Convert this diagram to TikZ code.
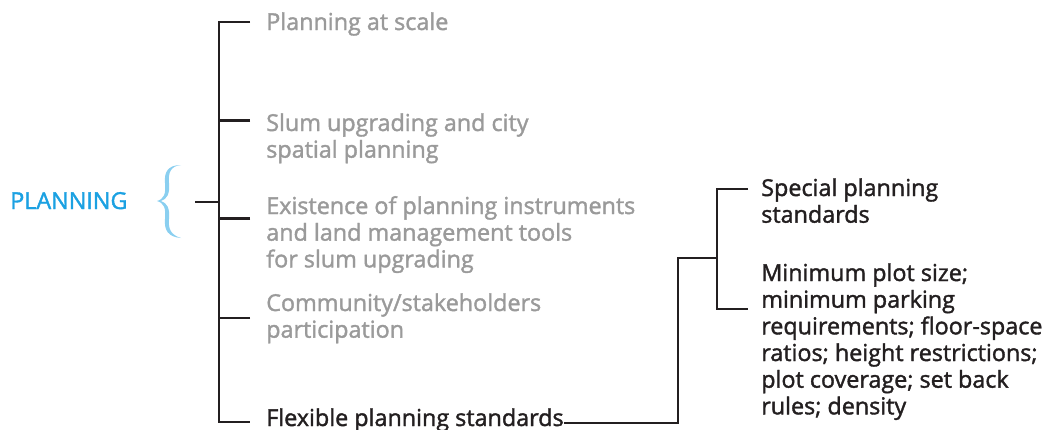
\documentclass[tikz,border=0pt]{standalone}
\usepackage{fontspec}
\setmainfont{Open Sans}[FakeBold=1.6]
\definecolor{ink}{HTML}{231F20}
\definecolor{greytext}{HTML}{9A9A9A}
\definecolor{planblue}{HTML}{1BA1E2}
\definecolor{braceblue}{HTML}{8ACFF0}
\newcommand{\mylines}[1]{\begin{tabular}[t]{@{}l@{}}#1\end{tabular}}
\tikzset{
  txt/.style={anchor=base west, inner sep=0pt, font=\fontsize{17.5}{20}\selectfont},
  greylbl/.style={txt, text=greytext},
  darklbl/.style={txt, text=ink},
  conn/.style={draw=ink, line width=1.9pt},
}
\begin{document}
\begin{tikzpicture}[x=0.75pt, y=-0.75pt]
\useasboundingbox (0,0) rectangle (1048,429);
% labels
\node[txt, text=planblue, font=\fontsize{17.5}{20}\selectfont] (plan) at (10,209) {PLANNING};
\node[greylbl] (t1) at (266,30) {Planning at scale};
\node[greylbl] (t2) at (266,131) {\mylines{Slum upgrading and city\\spatial planning}};
\node[greylbl] (t3) at (266,214) {\mylines{Existence of planning instruments\\and land management tools\\for slum upgrading}};
\node[greylbl] (t4) at (266,311) {\mylines{Community/stakeholders\\participation}};
\node[darklbl] (t5) at (266,426) {Flexible planning standards};
\node[darklbl] (s1) at (761,196) {\mylines{Special planning\\standards}};
\node[darklbl] (s2) at (761,281) {\mylines{Minimum plot size;\\minimum parking\\requirements; floor-space\\ratios; height restrictions;\\plot coverage; set back\\rules; density}};
% brace
\fill[braceblue] (181,165) .. controls (168,165) and (164,172) .. (165,183)
  .. controls (166,194) and (164,199) .. (157,201)
  .. controls (164,203) and (166,208) .. (165,219)
  .. controls (164,230) and (168,237) .. (181,238)
  .. controls (171,235) and (168,229) .. (169,219)
  .. controls (170,208) and (167,203) .. (161,201)
  .. controls (167,199) and (170,194) .. (169,183)
  .. controls (168,172) and (171,166) .. (181,165) -- cycle;
% coordinates
\coordinate (stub) at (195,202);
\coordinate (spine) at (219,202);
\coordinate (a1) at (219,22);
\coordinate (b1) at (250,22);
\coordinate (b2) at (250,120.5);
\coordinate (b3) at (250,218.5);
\coordinate (b4) at (250,318);
\coordinate (a5) at (219,422);
\coordinate (b5) at (250,422);
\coordinate (c1) at (678,422);
\coordinate (c2) at (678,258);
\coordinate (d0) at (717,258);
\coordinate (d1) at (717,189);
\coordinate (d2) at (717,309);
\coordinate (e1) at (748,189);
\coordinate (e2) at (748,309);
% connectors
\draw[conn] (stub) -- (spine);
\draw[conn] (b1) -- (a1) -- (a5) -- (b5);
\draw[conn] (b2) -- (a1 |- b2);
\draw[conn] (b3) -- (a1 |- b3);
\draw[conn] (b4) -- (a1 |- b4);
\draw[conn] (t5.base east) ++(0,-3) coordinate (f0) (f0) -- (c1 |- f0) -- (c2) -- (d0);
\draw[conn] (e1) -- (d1) -- (d2) -- (e2);
\end{tikzpicture}
\end{document}
